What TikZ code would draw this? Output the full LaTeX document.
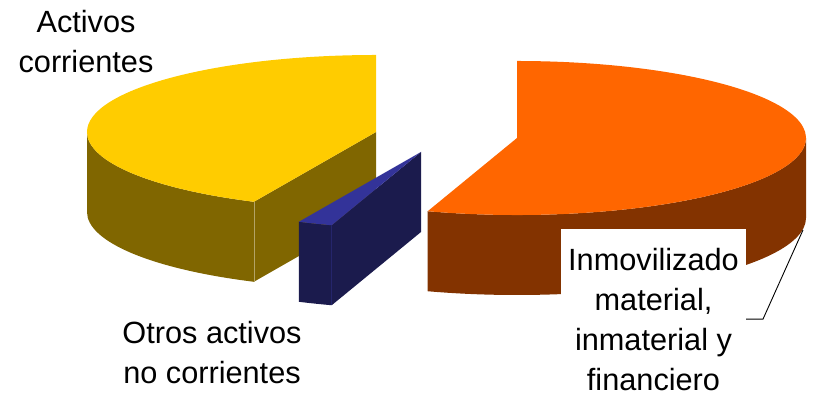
\documentclass[tikz,border=0pt]{standalone}
\usepackage{fontspec}
\setmainfont{Liberation Sans}
\usetikzlibrary{calc}
\definecolor{acttop}{HTML}{FFCC00}
\definecolor{actside}{HTML}{806600}
\definecolor{otrtop}{HTML}{333399}
\definecolor{otrside}{HTML}{1B1B4D}
\definecolor{inmtop}{HTML}{FF6600}
\definecolor{inmside}{HTML}{833300}
\newcommand{\piea}{289}
\newcommand{\pieb}{77}
\newcommand{\pieh}{80}

\begin{document}
\begin{tikzpicture}[x=1pt, y=1pt,
  lbl/.style={font=\fontsize{30.7}{40}\selectfont, align=center, inner sep=0pt},
  seam/.style={line width=0.6pt}]
\useasboundingbox (0,0) rectangle (837,395);
\coordinate (cact) at (376,263);
\coordinate (cotr) at (421,243);
\coordinate (cinm) at (517,257);

\fill[actside] ($(cact)+(180:\piea pt and \pieb pt)$) arc[start angle=180, end angle=245, x radius=\piea, y radius=\pieb] -- ++(0,-\pieh) arc[start angle=245, end angle=180, x radius=\piea, y radius=\pieb] -- cycle;
\fill[actside] (cact) -- ($(cact)+(245:\piea pt and \pieb pt)$) -- ++(0,-\pieh) -- ($(cact)+(0,-\pieh)$) -- cycle;
\fill[acttop] (cact) -- ($(cact)+(90:\piea pt and \pieb pt)$) arc[start angle=90, end angle=245, x radius=\piea, y radius=\pieb] -- cycle;
\draw[seam, actside!60!white] ($(cact)+(245:\piea pt and \pieb pt)$) -- ++(0,-\pieh);

\fill[otrside] ($(cotr)+(245:\piea pt and \pieb pt)$) arc[start angle=245, end angle=252, x radius=\piea, y radius=\pieb] -- ++(0,-\pieh) arc[start angle=252, end angle=245, x radius=\piea, y radius=\pieb] -- cycle;
\fill[otrside] (cotr) -- ($(cotr)+(252:\piea pt and \pieb pt)$) -- ++(0,-\pieh) -- ($(cotr)+(0,-\pieh)$) -- cycle;
\fill[otrtop] (cotr) -- ($(cotr)+(245:\piea pt and \pieb pt)$) arc[start angle=245, end angle=252, x radius=\piea, y radius=\pieb] -- cycle;
\draw[seam, otrside!60!otrtop] ($(cotr)+(252:\piea pt and \pieb pt)$) -- ++(0,-\pieh);

\fill[inmside] ($(cinm)+(252:\piea pt and \pieb pt)$) arc[start angle=252, end angle=360, x radius=\piea, y radius=\pieb] -- ++(0,-\pieh) arc[start angle=360, end angle=252, x radius=\piea, y radius=\pieb] -- cycle;
\fill[inmtop] (cinm) -- ($(cinm)+(252:\piea pt and \pieb pt)$) arc[start angle=252, end angle=450, x radius=\piea, y radius=\pieb] -- cycle;

\node[lbl, anchor=north] (lblact) at (86,385) {Activos\\corrientes};
\node[lbl, anchor=north] (lblotr) at (212,73.5) {Otros activos\\no corrientes};
\node[lbl, anchor=north, fill=white, inner xsep=7pt, inner ysep=18.6pt] (lblinm) at (653.5,166) {Inmovilizado\\material,\\inmaterial y\\financiero};
\coordinate (tipinm) at (803,165);
\draw[line width=0.9pt] (lblinm.east) -- ++(17,0) -- (tipinm);
\end{tikzpicture}
\end{document}
